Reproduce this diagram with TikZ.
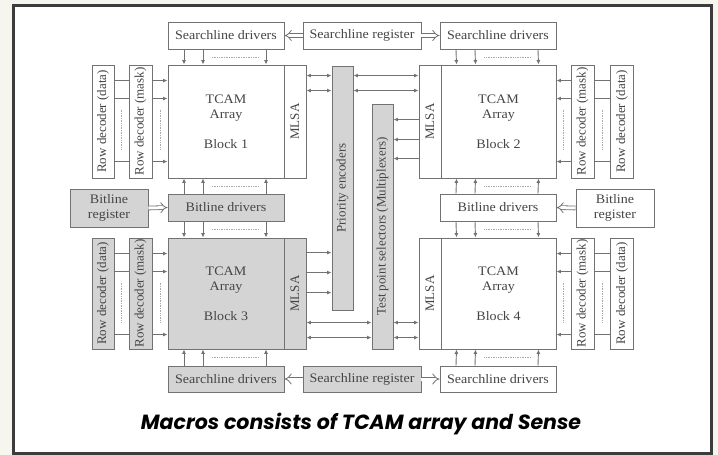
\documentclass[tikz,border=0pt]{standalone}
\usepackage{fontspec}
\setmainfont{Liberation Serif}
\newfontfamily\wideserif[FakeStretch=1.08]{Liberation Serif}
\newfontfamily\capfont{Poppins}
\usetikzlibrary{calc,arrows.meta}
\definecolor{paper}{HTML}{f7f6ee}
\definecolor{framegray}{HTML}{3c3c3c}
\definecolor{linegray}{HTML}{727272}
\definecolor{boxgray}{HTML}{d4d4d4}
\definecolor{textgray}{HTML}{454545}
\tikzset{
	% ------- every something
	every picture/.style={
		x=1pt, y=-1pt,
	},
	every path/.style={
		line width=0.9pt,
	},
	every node/.style={
		font=\fontsize{13}{15}\selectfont,
		text=textgray,
	},
	% ------- custom
	box/.style={
		draw=linegray, fill=white, rectangle, inner sep=0pt,
		font=\wideserif\fontsize{13}{15}\selectfont,
	},
	shaded/.style={
		fill=boxgray,
	},
	sig/.style={
		draw=linegray,
		-{Latex[length=4.5pt,width=4pt]},
	},
	bus/.style={
		draw=linegray,
		{Latex[length=4.5pt,width=4pt]}-{Latex[length=4.5pt,width=4pt]},
	},
	wide arrow/.style={
		draw=linegray, double=white, double distance=3pt, line width=0.8pt,
		-{Implies},
	},
	dots/.style={
		draw=linegray!60, line width=0.7pt,
		dash pattern=on 0.8pt off 0.9pt,
	},
}

\begin{document}
\begin{tikzpicture}

% background and frame %{{{1

	\useasboundingbox[fill=paper] (0,0) rectangle (718,455);
	\draw[framegray, line width=3pt, fill=white] (13,5.5) rectangle (711,453.5);

% parameters %{{{1

	\def\hsl{27}
	\def\hblk{113}
	\def\hblkb{111}

% top row %{{{1

	\node[box, minimum width=116, minimum height=\hsl] (slA) at (226,35.5) {Searchline drivers};
	\node[box, minimum width=118, minimum height=\hsl] (slregT) at (362,35.5) {Searchline register};
	\node[box, minimum width=116, minimum height=\hsl] (slB) at (498,35.5) {Searchline drivers};

% block 1 and block 2 %{{{1

	\node[box, minimum width=22, minimum height=\hblk,
		label={[rotate=90]center:Row decoder (data)}] (rdA1) at (103,121.5) {};
	\node[box, minimum width=23, minimum height=\hblk,
		label={[rotate=90]center:Row decoder (mask)}] (rdA2) at (140.5,121.5) {};
	\node[box, minimum width=116, minimum height=\hblk, align=center]
		(tcam1) at (226,121.5) {TCAM\\Array\\[15pt]Block 1};
	\node[box, minimum width=22, minimum height=\hblk,
		label={[rotate=90]center:MLSA}] (mlsa1) at (295,121.5) {};

	\node[box, minimum width=22, minimum height=\hblk,
		label={[rotate=90]center:MLSA}] (mlsa2) at (430,121.5) {};
	\node[box, minimum width=115, minimum height=\hblk, align=center]
		(tcam2) at (498.5,121.5) {TCAM\\Array\\[15pt]Block 2};
	\node[box, minimum width=23, minimum height=\hblk,
		label={[rotate=90]center:Row decoder (mask)}] (rdB2) at (582.5,121.5) {};
	\node[box, minimum width=23, minimum height=\hblk,
		label={[rotate=90]center:Row decoder (data)}] (rdB1) at (622,121.5) {};

% priority encoders, test point selectors %{{{1

	\node[box, shaded, minimum width=21, minimum height=244,
		label={[rotate=90]center:Priority encoders}] (prio) at (342.5,188) {};
	\node[box, shaded, minimum width=21, minimum height=245,
		label={[rotate=90]center:Test point selectors (Multiplexers)}] (test) at (382.5,226.5) {};

% bitline row %{{{1

	\node[box, shaded, minimum width=78, minimum height=38, align=center]
		(blregA) at (109,208) {Bitline\\register};
	\node[box, shaded, minimum width=116, minimum height=\hsl] (bldA) at (226,207.5) {Bitline drivers};
	\node[box, minimum width=116, minimum height=\hsl] (bldB) at (498,207.5) {Bitline drivers};
	\node[box, minimum width=78, minimum height=38, align=center]
		(blregB) at (615,208) {Bitline\\register};

% block 3 and block 4 %{{{1

	\node[box, shaded, minimum width=22, minimum height=\hblkb,
		label={[rotate=90]center:Row decoder (data)}] (rdC1) at (103,293.5) {};
	\node[box, shaded, minimum width=23, minimum height=\hblkb,
		label={[rotate=90]center:Row decoder (mask)}] (rdC2) at (140.5,293.5) {};
	\node[box, shaded, minimum width=116, minimum height=\hblkb, align=center]
		(tcam3) at (226,293.5) {TCAM\\Array\\[15pt]Block 3};
	\node[box, shaded, minimum width=22, minimum height=\hblkb,
		label={[rotate=90]center:MLSA}] (mlsa3) at (295,293.5) {};

	\node[box, minimum width=22, minimum height=\hblkb,
		label={[rotate=90]center:MLSA}] (mlsa4) at (430,293.5) {};
	\node[box, minimum width=115, minimum height=\hblkb, align=center]
		(tcam4) at (498.5,293.5) {TCAM\\Array\\[15pt]Block 4};
	\node[box, minimum width=23, minimum height=\hblkb,
		label={[rotate=90]center:Row decoder (mask)}] (rdD2) at (582.5,293.5) {};
	\node[box, minimum width=23, minimum height=\hblkb,
		label={[rotate=90]center:Row decoder (data)}] (rdD1) at (622,293.5) {};

% bottom row %{{{1

	\node[box, shaded, minimum width=116, minimum height=26] (slC) at (226,379) {Searchline drivers};
	\node[box, shaded, minimum width=118, minimum height=26] (slregB) at (362,379) {Searchline register};
	\node[box, minimum width=116, minimum height=26] (slD) at (498,379) {Searchline drivers};

% register arrows %{{{1

	\draw[wide arrow] (slregT.west) -- (slA.east);
	\draw[wide arrow] (slregT.east) -- (slB.west);
	\draw[wide arrow] (blregA.east) -- (bldA.west);
	\draw[wide arrow] (blregB.west) -- (bldB.east);
	\draw[wide arrow] (slregB.west) -- (slC.east);
	\draw[wide arrow] (slregB.east) -- (slD.west);

% column arrows %{{{1

	\foreach \dx in {-42,-23,40} {
		\draw[sig] ([xshift=\dx pt]slA.south) -- ([xshift=\dx pt]tcam1.north);
		\draw[sig] ([xshift=\dx pt]slB.south) -- ([xshift=\dx pt]tcam2.north);
		\draw[sig] ([xshift=\dx pt]bldA.north) -- ([xshift=\dx pt]tcam1.south);
		\draw[sig] ([xshift=\dx pt]bldB.north) -- ([xshift=\dx pt]tcam2.south);
		\draw[sig] ([xshift=\dx pt]bldA.south) -- ([xshift=\dx pt]tcam3.north);
		\draw[sig] ([xshift=\dx pt]bldB.south) -- ([xshift=\dx pt]tcam4.north);
		\draw[sig] ([xshift=\dx pt]slC.north) -- ([xshift=\dx pt]tcam3.south);
		\draw[sig] ([xshift=\dx pt]slD.north) -- ([xshift=\dx pt]tcam4.south);
	}
	\foreach \a/\b in {slA/tcam1, slB/tcam2, tcam1/bldA, tcam2/bldB,
		bldA/tcam3, bldB/tcam4, tcam3/slC, tcam4/slD} {
		\draw[dots] ($(\a.south)!0.5!(\b.north)+(-14,0)$) -- ++(46,0);
	}

% row decoder arrows %{{{1

	\foreach \dy in {16,34,97} {
		\draw[linegray] ([yshift=-\dy pt]rdA1.north east) -- ([yshift=-\dy pt]rdA2.north west);
		\draw[sig] ([yshift=-\dy pt]rdA2.north east) -- ([yshift=-\dy pt]tcam1.north west);
		\draw[linegray] ([yshift=-\dy pt]rdB1.north west) -- ([yshift=-\dy pt]rdB2.north east);
		\draw[sig] ([yshift=-\dy pt]rdB2.north west) -- ([yshift=-\dy pt]tcam2.north east);
		\draw[linegray] ([yshift=-\dy pt]rdC1.north east) -- ([yshift=-\dy pt]rdC2.north west);
		\draw[sig] ([yshift=-\dy pt]rdC2.north east) -- ([yshift=-\dy pt]tcam3.north west);
		\draw[linegray] ([yshift=-\dy pt]rdD1.north west) -- ([yshift=-\dy pt]rdD2.north east);
		\draw[sig] ([yshift=-\dy pt]rdD2.north west) -- ([yshift=-\dy pt]tcam4.north east);
	}
	\foreach \a/\b in {rdA1/rdA2, rdA2/tcam1, rdC1/rdC2, rdC2/tcam3} {
		\draw[dots] ($(\a.north east)!0.5!(\b.north west)+(0,45)$) -- ++(0,40);
	}
	\foreach \a/\b in {rdB1/rdB2, rdB2/tcam2, rdD1/rdD2, rdD2/tcam4} {
		\draw[dots] ($(\a.north west)!0.5!(\b.north east)+(0,45)$) -- ++(0,40);
	}

% match line arrows %{{{1

	\foreach \dy in {11,26} {
		\draw[bus] ([yshift=-\dy pt]mlsa1.north east) coordinate (t) -- (t -| prio.west);
		\draw[bus] ([yshift=-\dy pt]mlsa2.north west) coordinate (t) -- (t -| prio.east);
	}
	\foreach \dy in {55,75,94} {
		\draw[sig] ([yshift=-\dy pt]mlsa2.north west) coordinate (t) -- (t -| test.east);
	}
	\foreach \dy in {15,35,55} {
		\draw[sig] ([yshift=-\dy pt]mlsa3.north east) coordinate (t) -- (t -| prio.west);
	}
	\foreach \dy in {85,100} {
		\draw[bus] ([yshift=-\dy pt]mlsa3.north east) coordinate (t) -- (t -| test.west);
		\draw[bus] ([yshift=-\dy pt]mlsa4.north west) coordinate (t) -- (t -| test.east);
	}

% caption %{{{1

	\node[font=\capfont\fontsize{20.5}{23}\selectfont\bfseries\itshape, text=black]
		(caption) at (361,424) {Macros consists of TCAM array and Sense};

\end{tikzpicture}
\end{document}
